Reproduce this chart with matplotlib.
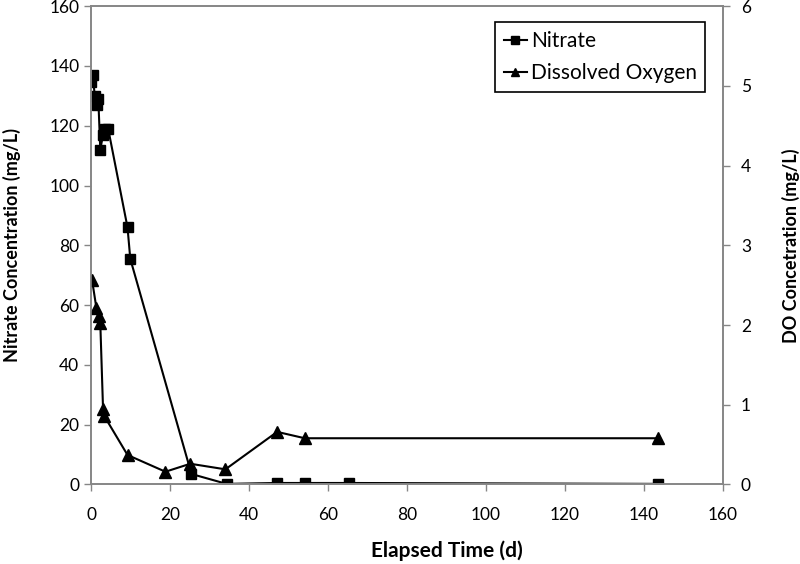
import matplotlib.pyplot as plt

# Datos
tiempo_nitrato = [0, 0.4, 0.9, 1.5, 1.8, 2.3, 3.0, 3.6, 4.3, 9.2, 9.9, 25.4, 34.3, 47.1, 54.1, 65.3, 143.6]
nitrato = [134.5, 137, 130, 127, 129, 112, 117, 119, 119, 86, 75.5, 3.5, 0.2, 0.5, 0.5, 0.5, 0.2]

tiempo_od = [0.2, 1.3, 2.1, 2.3, 3.0, 3.3, 9.2, 18.8, 25.1, 34.0, 47.1, 54.1, 143.6]
od = [2.57, 2.22, 2.11, 2.03, 0.95, 0.86, 0.37, 0.16, 0.26, 0.19, 0.66, 0.58, 0.58]

x_ticks = list(range(0, 161, 20))
y_ticks = list(range(0, 161, 20))
y2_ticks = list(range(0, 7))

plt.rcParams['font.family'] = ['Lato', 'DejaVu Sans']
gris = '#868686'

fig, ax = plt.subplots(figsize=(8, 5.64), dpi=100)
fig.subplots_adjust(left=0.114, right=0.9035, top=0.989, bottom=0.141)
ax2 = ax.twinx()

l1, = ax.plot(tiempo_nitrato, nitrato, color='black', linewidth=1.5,
              marker='s', markersize=7, label='Nitrate')
l2, = ax2.plot(tiempo_od, od, color='black', linewidth=1.5,
               marker='^', markersize=8, label='Dissolved Oxygen')

ax.set_xlim(0, 160)
ax.set_ylim(0, 160)
ax2.set_ylim(0, 6)
ax.set_xticks(x_ticks)
ax.set_yticks(y_ticks)
ax2.set_yticks(y2_ticks)

for a in (ax, ax2):
    for s in a.spines.values():
        s.set_color(gris)
        s.set_linewidth(1.2)
    a.tick_params(colors=gris, labelcolor='black', labelsize=12.5, length=5, width=1)
ax.tick_params(axis='x', pad=11)
ax2.tick_params(axis='y', pad=8)

ax.set_xlabel('Elapsed Time (d)', fontsize=15, fontweight='bold', va='center')
ax.xaxis.set_label_coords(0.5626, -0.139)
ax.set_ylabel('Nitrate Concentration (mg/L)', fontsize=13, fontweight='bold', labelpad=20)
ax2.set_ylabel('DO Concetration (mg/L)', fontsize=13, fontweight='bold', labelpad=22)

leg = ax.legend(handles=[l1, l2], loc='upper right', bbox_to_anchor=(0.972, 0.966),
                borderaxespad=0, fontsize=15, fancybox=False, framealpha=1,
                edgecolor='black', markerscale=0.8, handlelength=1.1,
                handletextpad=0.2, borderpad=0.4, labelspacing=0.6)
leg.get_frame().set_linewidth(1.2)

plt.savefig('out.png', dpi=100)
